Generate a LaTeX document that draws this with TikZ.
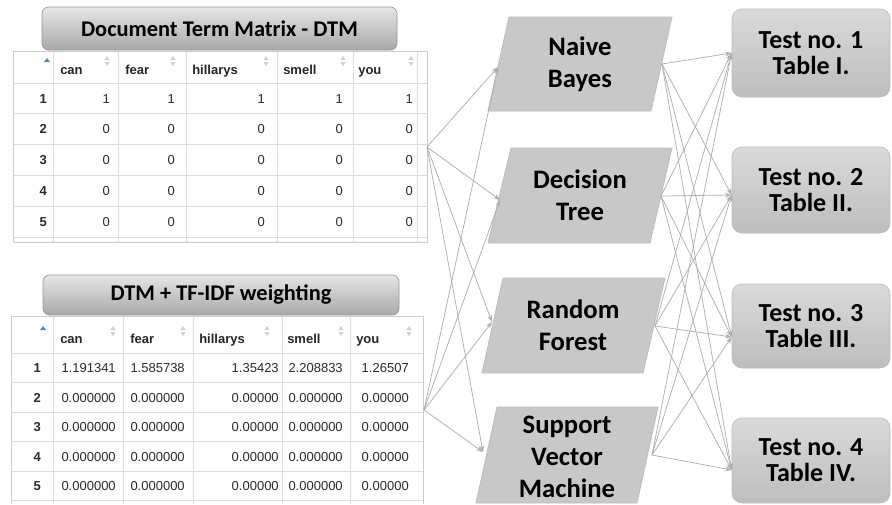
\documentclass[tikz,border=0pt]{standalone}
\usepackage{fontspec}
\setmainfont{Carlito}
\newfontfamily\tabfont{Liberation Sans}
\usetikzlibrary{arrows.meta,calc}
\definecolor{gridc}{HTML}{DDDDDD}
\definecolor{borderc}{HTML}{CCCCCC}
\definecolor{cellt}{HTML}{2A2A2A}
\definecolor{sortc}{HTML}{D0D0D0}
\definecolor{sortblue}{HTML}{3A8FD8}
\definecolor{connc}{HTML}{AFAFAF}
\definecolor{parac}{HTML}{C8C8C8}
\definecolor{parab}{HTML}{BDBDBD}
\definecolor{titletop}{HTML}{E6E6E6}
\definecolor{titlebot}{HTML}{A8A8A8}
\definecolor{testtop}{HTML}{DADADA}
\definecolor{testbot}{HTML}{BDBDBD}
\tikzset{
  grid/.style={draw=gridc, line width=0.75pt},
  cell/.style={inner sep=0pt, text=cellt, font=\tabfont\fontsize{9.75pt}{11pt}\selectfont, anchor=base east},
  cellb/.style={cell, font=\tabfont\bfseries\fontsize{9.75pt}{11pt}\selectfont},
  headc/.style={inner sep=0pt, text=black!85, font=\tabfont\bfseries\fontsize{9.75pt}{11pt}\selectfont, anchor=base west},
  titlebox/.style={draw=titlebot!90!black, line width=0.5pt, rounded corners=5pt, top color=titletop, bottom color=titlebot,
     font=\bfseries\fontsize{16.8pt}{20pt}\selectfont, inner sep=0pt},
  parabox/.style={fill=parac, draw=parab, line width=0.6pt},
  paratext/.style={font=\bfseries\fontsize{20pt}{24pt}\selectfont, align=center, inner sep=0pt},
  testbox/.style={draw=testbot, line width=0.5pt, rounded corners=7.5pt, top color=testtop, bottom color=testbot,
     minimum width=118.5pt, align=center, inner sep=0pt,
     font=\bfseries\fontsize{19.5pt}{19.5pt}\selectfont},
  conn/.style={draw=connc, line width=0.55pt, -{Stealth[length=5pt,width=3.6pt]}},
  sorticon/.pic={\fill[sortc] (-2.5,-1) -- (2.5,-1) -- (0,-5) -- cycle;
                 \fill[sortc] (-2.5,1) -- (2.5,1) -- (0,5) -- cycle;}
}
\begin{document}
\begin{tikzpicture}[x=0.75pt,y=-0.75pt]
\useasboundingbox[fill=white] (0,0) rectangle (892,504);

% ---------- top table ----------
\fill[white] (13,51) rectangle (427,242);
\foreach \yy in {83,113,144,175,206,237} \draw[grid] (13,\yy) -- (427,\yy);
\foreach \xx in {53,118,186,277,353,417} \draw[grid] (\xx,51) -- (\xx,242);
\draw[draw=borderc, line width=0.75pt] (13,51) rectangle (427,242);
\fill[sortblue] (44,62) -- (50,62) -- (47,58) -- cycle;
\foreach \xx/\hh in {60/can,125/fear,192/hillarys,283/smell,358/you}
  \node[headc] at (\xx,74) {\hh};
\foreach \xx in {107,173,266,343,411} \pic at (\xx,61) {sorticon};
\foreach \r/\yy in {1/98,2/128.5,3/159.5,4/190.5,5/221.5}{
  \node[cellb] at (47,\yy+5) {\r};
  \foreach \xx in {110,175,265,343,413}
    \node[cell] at (\xx,\yy+5) {\ifnum\r=1 1\else 0\fi};
}
\node[titlebox, minimum width=266.25pt, minimum height=32.25pt] (dtm) at (219.5,28.5) {Document Term Matrix - DTM};
\coordinate (dtmout) at (427,147);

% ---------- bottom table ----------
\fill[white] (11,316) rectangle (423,504);
\foreach \yy in {353,382,412,441,471,500} \draw[grid] (11,\yy) -- (423,\yy);
\foreach \xx in {53,123,193,282,350} \draw[grid] (\xx,316) -- (\xx,504);
\draw[draw=borderc, line width=0.75pt] (11,504) -- (11,316) -- (423,316) -- (423,504);
\fill[sortblue] (40,330) -- (46,330) -- (43,326) -- cycle;
\foreach \xx/\hh in {60/can,130/fear,199/hillarys,287/smell,356/you}
  \node[headc] at (\xx,343) {\hh};
\foreach \xx in {113,183,267,341,409} \pic at (\xx,331) {sorticon};
\foreach \r/\yy in {1/367.5,2/397,3/426.5,4/456,5/485.5}{
  \node[cellb] at (41,\yy+5) {\r};
  \ifnum\r=1
    \foreach \xx/\vv in {116/1.191341,185/1.585738,279/1.35423,343/2.208833,409/1.26507}
      \node[cell] at (\xx,\yy+5) {\vv};
  \else
    \foreach \xx/\vv in {116/0.000000,185/0.000000,279/0.00000,343/0.000000,409/0.00000}
      \node[cell] at (\xx,\yy+5) {\vv};
  \fi
}
\node[titlebox, minimum width=267pt, minimum height=30pt] (tfidf) at (221,295) {DTM + TF-IDF weighting};
\coordinate (tfout) at (424,410);

% ---------- classifiers ----------
\filldraw[parabox] (509,17) -- (672,17) -- (651,111) -- (488,111) -- cycle;
\node[paratext] (nb) at (580,64) {Naive\\Bayes};
\coordinate (nbin) at (498,67); \coordinate (nbout) at (662,64);

\filldraw[parabox] (511,148) -- (672,148) -- (650,243) -- (488,243) -- cycle;
\node[paratext] (dt) at (580,195.5) {Decision\\Tree};
\coordinate (dtin) at (500,200); \coordinate (dtout) at (661,196);

\filldraw[parabox] (503,278) -- (665,278) -- (643,373) -- (482,373) -- cycle;
\node[paratext] (rf) at (573,325.5) {Random\\Forest};
\coordinate (rfin) at (492,322); \coordinate (rfout) at (655,326);

\filldraw[parabox] (497,407) -- (658,407) -- (637,503) -- (476,503) -- cycle;
\node[paratext] (svm) at (567,457) {Support\\Vector\\Machine};
\coordinate (svmin) at (483,452); \coordinate (svmout) at (652,455);

% ---------- tests ----------
\node[testbox, minimum height=66pt] (t1) at (811,53) {Test no. 1\\Table I.};
\node[testbox, minimum height=64.5pt] (t2) at (811,190) {Test no. 2\\Table II.};
\node[testbox, minimum height=63pt] (t3) at (811,326) {Test no. 3\\Table III.};
\node[testbox, minimum height=63.75pt] (t4) at (811,460.5) {Test no. 4\\Table IV.};
\coordinate (t1in) at (t1.west);
\coordinate (t2in) at ($(t2.west)+(0,5)$);
\coordinate (t3in) at ($(t3.west)+(0,11)$);
\coordinate (t4in) at ($(t4.west)+(0,9.5)$);

% ---------- connectors ----------
\foreach \s in {dtmout,tfout}
  \foreach \t in {nbin,dtin,rfin,svmin}
    \draw[conn] (\s) -- (\t);
\foreach \s in {nbout,dtout,rfout,svmout}
  \foreach \t in {t1in,t2in,t3in,t4in}
    \draw[conn] (\s) -- (\t);
\end{tikzpicture}
\end{document}
